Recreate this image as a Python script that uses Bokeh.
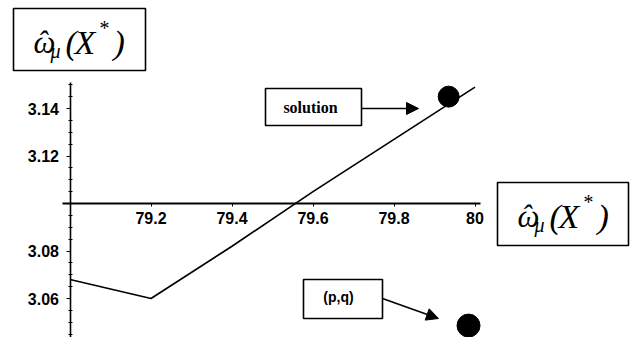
import numpy as np
from bokeh.plotting import figure
from bokeh.models import (Label, BoxAnnotation, Arrow, NormalHead, FixedTicker,
                          CustomJSTickFormatter, Range1d)
from bokeh.embed import file_html
from bokeh.resources import INLINE

# ---------------- data ----------------
x_values = [79.0, 79.2, 79.4, 79.6, 79.8, 80.0]
omega_values = [3.068, 3.060, 3.082, 3.105, 3.127, 3.149]
solution_x = [79.935]
solution_y = [3.145]
pq_x = [79.984]
pq_y = [3.0486]
x_ticks = [79.2, 79.4, 79.6, 79.8, 80.0]
x_tick_labels = ["79.2", "79.4", "79.6", "79.8", "80"]
y_ticks = [3.06, 3.08, 3.12, 3.14]
y_tick_labels = ["3.06", "3.08", "3.12", "3.14"]
y_minor_ticks = [3.045, 3.05, 3.055, 3.065, 3.07, 3.075, 3.085, 3.09, 3.095,
                 3.105, 3.11, 3.115, 3.125, 3.13, 3.135, 3.145, 3.15]
box_texts = ["solution", "(p,q)"]

# ---------------- layout helpers (picture pixel -> data) ----------------
W, H = 631, 337
OFF = 0                           # where the figure's top-left lands in the picture
PX_X0, PX_PER_X = 69.5, 405.0     # picture px of x=79.0, px per unit
PX_Y0, PX_PER_Y = 203.0, 2375.0   # picture px of y=3.10, px per unit


def dx(px):
    return 79.0 + (px - PX_X0) / PX_PER_X


def dy(py):
    return 3.10 - (py - PX_Y0) / PX_PER_Y


p = figure(width=W, height=H, output_backend="svg", toolbar_location=None,
           x_range=Range1d(dx(OFF), dx(OFF + W)), y_range=Range1d(dy(OFF + H), dy(OFF)),
           min_border=0, background_fill_color="white", border_fill_color="white")
p.outline_line_color = None
p.grid.visible = False

LOOKUP = """
    for (let i = 0; i < tk.length; i++) { if (Math.abs(tk[i] - tick) < 1e-9) return lb[i]; }
    return '';
"""

# axes crossing in the middle
xa = p.xaxis[0]
xa.fixed_location = 3.10
xa.bounds = (dx(62), dx(480))
xa.ticker = FixedTicker(ticks=x_ticks)
xa.formatter = CustomJSTickFormatter(args=dict(tk=x_ticks, lb=x_tick_labels), code=LOOKUP)
xa.axis_line_width = 2
xa.axis_line_color = "black"
xa.major_tick_out = 3
xa.major_tick_in = 0
xa.minor_tick_out = 0
xa.minor_tick_in = 0
xa.major_label_standoff = 5

ya = p.yaxis[0]
ya.fixed_location = 79.0
ya.bounds = (dy(345), dy(82))
ya.ticker = FixedTicker(ticks=y_ticks, minor_ticks=y_minor_ticks)
ya.formatter = CustomJSTickFormatter(args=dict(tk=y_ticks, lb=y_tick_labels), code=LOOKUP)
ya.axis_line_width = 1.6
ya.axis_line_color = "black"
ya.major_tick_out = 4
ya.major_tick_in = 0
ya.minor_tick_out = 2
ya.minor_tick_in = 2
ya.major_label_standoff = 7

for ax in (xa, ya):
    ax.major_label_text_font = "Liberation Sans"
    ax.major_label_text_font_style = "bold"
    ax.major_label_text_font_size = "16px"
    ax.major_label_text_color = "black"
    ax.major_tick_line_color = "black"
    ax.minor_tick_line_color = "black"

# data marks
p.line(x_values, omega_values, line_width=1.7, color="black")
p.scatter(solution_x, solution_y, size=21, color="black")
p.scatter(pq_x, pq_y, size=23, color="black")


def box(l, t, r, b):
    p.add_layout(BoxAnnotation(left=dx(l), right=dx(r), top=dy(t), bottom=dy(b),
                               fill_color="white", fill_alpha=1.0,
                               line_color="black", line_width=1.6, line_alpha=1.0))


def math_label(left_px, top_px):
    base = top_px + 34
    # (text, x offset, baseline offset, font px, align)
    pieces = [("\u03c9", 20, 0, 31, "left"), ("\u02c6", 29, -2, 30, "center"),
              ("\u03bc", 37, 8, 20, "left"), ("(", 52, 0, 34, "left"),
              ("X", 61, 0, 34, "left"), ("*", 85, -15, 20, "left"),
              (")", 100, 0, 34, "left")]
    for txt, ox, oy, fs, align in pieces:
        p.add_layout(Label(x=dx(left_px + ox), y=dy(base + oy), text=txt,
                           text_font="Liberation Serif", text_font_style="italic",
                           text_font_size=f"{fs}px", text_color="black",
                           text_align=align, text_baseline="alphabetic"))


# y-axis title box (top left) and x-axis title box (right)
box(13, 8, 145, 70)
math_label(13, 8)
box(497, 182, 628, 245)
math_label(497, 182)

# "solution" box + arrow
box(265, 88, 361, 125)
p.add_layout(Label(x=dx(310), y=dy(107), text=box_texts[0], text_font="Liberation Serif",
                   text_font_style="bold", text_font_size="16px", text_color="black",
                   text_align="center", text_baseline="middle"))
p.add_layout(Arrow(end=NormalHead(size=12, fill_color="black", line_color="black"),
                   x_start=dx(361), y_start=dy(108), x_end=dx(418), y_end=dy(108),
                   line_width=1.6, line_color="black"))

# "(p,q)" box + arrow
box(303, 279, 382, 318)
p.add_layout(Label(x=dx(338), y=dy(296), text=box_texts[1], text_font="Liberation Sans",
                   text_font_style="bold", text_font_size="14px", text_color="black",
                   text_align="center", text_baseline="middle"))
p.add_layout(Arrow(end=NormalHead(size=12, fill_color="black", line_color="black"),
                   x_start=dx(382), y_start=dy(298), x_end=dx(438), y_end=dy(318),
                   line_width=1.6, line_color="black"))

open("out.html", "w").write(file_html(p, INLINE))
